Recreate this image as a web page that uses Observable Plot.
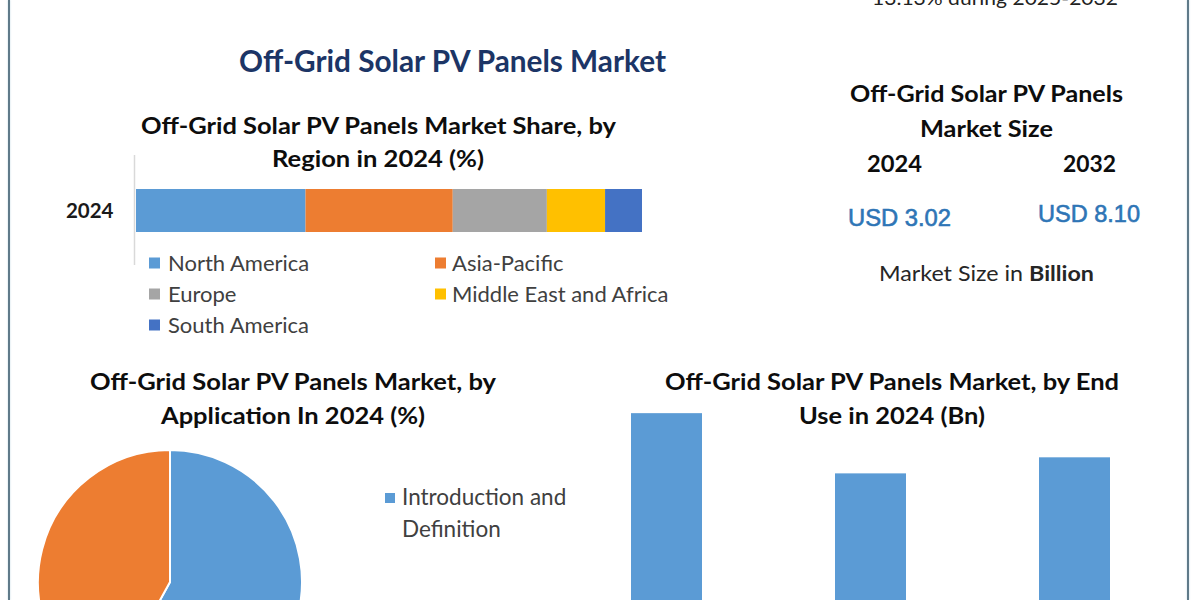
<!DOCTYPE html>
<html><head><meta charset="utf-8">
<script src="https://cdn.jsdelivr.net/npm/d3@7"></script>
<script src="https://cdn.jsdelivr.net/npm/@observablehq/plot@0.6"></script>
<style>
html,body{margin:0;padding:0;background:#fff;}
#page{position:relative;width:1200px;height:600px;overflow:hidden;background:#fff;font-family:Lato,"Open Sans",sans-serif;}
#page > svg, #page > div.plot{position:absolute;}
.border{position:absolute;top:0;width:2px;height:600px;background:#5f7a89;box-shadow:0 0 2px #b9d3df;}
</style></head><body><div id="page"></div>
<script>
// ---------------- data ----------------
const regions = ["North America", "Asia-Pacific", "Europe", "Middle East and Africa", "South America"];
const regionShare = [33.5, 29.1, 18.6, 11.5, 7.3];
const regionColors = ["#5B9BD5", "#ED7D31", "#A5A5A5", "#FFC000", "#4472C4"];
const shareYear = "2024";

const applications = ["Introduction and Definition", "Others"];
const applicationShare = [58, 42];
const applicationColors = ["#5B9BD5", "#ED7D31"];

const endUses = ["Residential", "Commercial", "Industrial"];
const endUseValue = [1.18, 0.88, 0.96];
const endUseColor = "#5B9BD5";

const sizeYears = ["2024", "2032"];
const sizeValues = ["USD 3.02", "USD 8.10"];

const titleMain = "Off-Grid Solar PV Panels Market";
const cagrText = "13.13% during 2025-2032";
const regionTitle = ["Off-Grid Solar PV Panels Market Share, by", "Region in 2024 (%)"];
const sizeTitle = ["Off-Grid Solar PV Panels", "Market Size"];
const sizeUnit = ["Market Size in ", "Billion"];
const appTitle = ["Off-Grid Solar PV Panels Market, by", "Application In 2024 (%)"];
const endTitle = ["Off-Grid Solar PV Panels Market, by End", "Use in 2024 (Bn)"];

// ---------------- layout ----------------
const page = document.getElementById("page");
function place(node, left, top) {
  node.style.position = "absolute";
  node.style.left = left + "px";
  node.style.top = top + "px";
  page.appendChild(node);
}

// Stacked region bar
const regionData = regions.map((r, i) => ({region: r, share: regionShare[i], year: shareYear}));
const regionPlot = Plot.plot({
  width: 700, height: 130,
  marginLeft: 136, marginRight: 58, marginTop: 15, marginBottom: 5,
  x: {domain: [0, 100], axis: null},
  y: {domain: [shareYear], padding: 0.44, label: null, tickSize: 0, tickPadding: 23},
  color: {domain: regions, range: regionColors},
  style: {fontFamily: "Lato", fontSize: "20.5px", fontWeight: "bold", color: "#1a1a1a", background: "transparent"},
  marks: [
    Plot.barX(regionData, Plot.stackX({x: "share", y: "year", fill: "region"})),
    Plot.ruleX([0], {stroke: "#d9d9d9", strokeWidth: 1.5, dx: -2})
  ]
});
place(regionPlot, 0, 140);

// Pie (application)
const appData = applications.map((a, i) => ({app: a, share: applicationShare[i]}));
const pieMark = (index, scales, values, dims) => {
  const w = dims.width - dims.marginLeft - dims.marginRight;
  const h = dims.height - dims.marginTop - dims.marginBottom;
  const cx = dims.marginLeft + w / 2, cy = dims.marginTop + h / 2;
  const r = Math.min(w, h) / 2;
  const col = scales.color || (d => applicationColors[applications.indexOf(d)]);
  const arcs = d3.pie().sort(null).value(d => d.share)(appData);
  const arc = d3.arc().innerRadius(0).outerRadius(r);
  const g = d3.create("svg:g").attr("transform", `translate(${cx},${cy})`);
  g.selectAll("path").data(arcs).join("path")
    .attr("d", arc).attr("fill", d => col(d.data.app))
    .attr("stroke", "#fff").attr("stroke-width", 2);
  return g.node();
};
const piePlot = Plot.plot({
  width: 340, height: 284, margin: 10,
  color: {domain: applications, range: applicationColors},
  style: {background: "transparent"},
  marks: [Plot.dot(appData, {fill: "app", r: 0}), pieMark]
});
place(piePlot, 0, 440);

// End-use bars
const endData = endUses.map((u, i) => ({use: u, value: endUseValue[i]}));
const endPlot = Plot.plot({
  width: 600, height: 300,
  marginLeft: 10.6, marginRight: 68.6, marginTop: 19, marginBottom: 0,
  x: {domain: endUses, paddingInner: 0.65, paddingOuter: 0.1, axis: null},
  y: {domain: [0, 1.4], axis: null},
  style: {background: "transparent"},
  marks: [Plot.barY(endData, {x: "use", y: "value", fill: endUseColor})]
});
place(endPlot, 600, 350);

// Borders
for (const bx of [8, 1187]) {
  const d = document.createElement("div");
  d.className = "border";
  d.style.left = bx + "px";
  page.appendChild(d);
}

// Text overlay
const svg = d3.select(page).append("svg")
  .attr("width", 1200).attr("height", 600)
  .style("left", "0px").style("top", "0px").style("pointer-events", "none");

function label(parts, x0, x1, y, size, weight, fill, font, extra) {
  const t = svg.append("text")
    .attr("x", x0).attr("y", y)
    .attr("font-family", font || "Lato")
    .attr("font-size", size).attr("font-weight", weight).attr("fill", fill);
  if (x1 != null) t.attr("textLength", x1 - x0).attr("lengthAdjust", "spacingAndGlyphs");
  if (typeof parts === "string") t.text(parts);
  else parts.forEach(p => t.append("tspan").attr("font-weight", p[1]).text(p[0]));
  if (extra) extra(t);
  return t;
}
const HEAD = "#0d0d0d", BODY = "#404040";

label(cagrText, 872, 1118, 5, 20, 400, "#222");
label(titleMain, 239, 666, 72, 30, 700, "#1c3566");

label(regionTitle[0], 141, 616, 134, 23, 700, HEAD);
label(regionTitle[1], 272, 484, 167, 23, 700, HEAD);

label(sizeTitle[0], 850, 1123, 102, 23, 700, HEAD);
label(sizeTitle[1], 920, 1053, 137, 23, 700, HEAD);
label(sizeYears[0], 867, 922, 172, 22, 700, HEAD);
label(sizeYears[1], 1063, 1116, 172, 22, 700, HEAD);
const usd = t => t.attr("stroke", "#2E75B6").attr("stroke-width", 0.6);
label(sizeValues[0], 848, 951, 226, 24, 400, "#2E75B6", "Liberation Sans", usd);
label(sizeValues[1], 1038, 1140, 222, 24, 400, "#2E75B6", "Liberation Sans", usd);
label([[sizeUnit[0], 400], [sizeUnit[1], 700]], 879, 1094, 281, 21, 400, "#262626");

label(appTitle[0], 90, 496, 390, 23, 700, HEAD);
label(appTitle[1], 161, 425, 424, 23, 700, HEAD);
label(endTitle[0], 665, 1119, 390, 23, 700, HEAD);
label(endTitle[1], 799, 985, 424, 23, 700, HEAD);

// Region legend (2 columns)
const legCols = [149, 435], legRows = [263, 294, 325];
regions.forEach((r, i) => {
  const x = legCols[i % 2], cy = legRows[Math.floor(i / 2)];
  svg.append("rect").attr("x", x).attr("y", cy - 5.5).attr("width", 11).attr("height", 11).attr("fill", regionColors[i]);
  label(r, x + (i % 2 ? 17 : 19), null, cy + 7.5, 22, 400, BODY);
});

// Pie legend (first item visible)
{
  const words = applications[0].split(" ");
  const lines = [];
  let cur = "";
  for (const w of words) {
    const next = cur ? cur + " " + w : w;
    if (next.length > 16 && cur) { lines.push(cur); cur = w; } else cur = next;
  }
  lines.push(cur);
  svg.append("rect").attr("x", 385).attr("y", 493).attr("width", 10).attr("height", 10).attr("fill", applicationColors[0]);
  lines.forEach((ln, j) => label(ln, 402, null, 505 + j * 32, 22.5, 400, BODY));
}
</script></body></html>
